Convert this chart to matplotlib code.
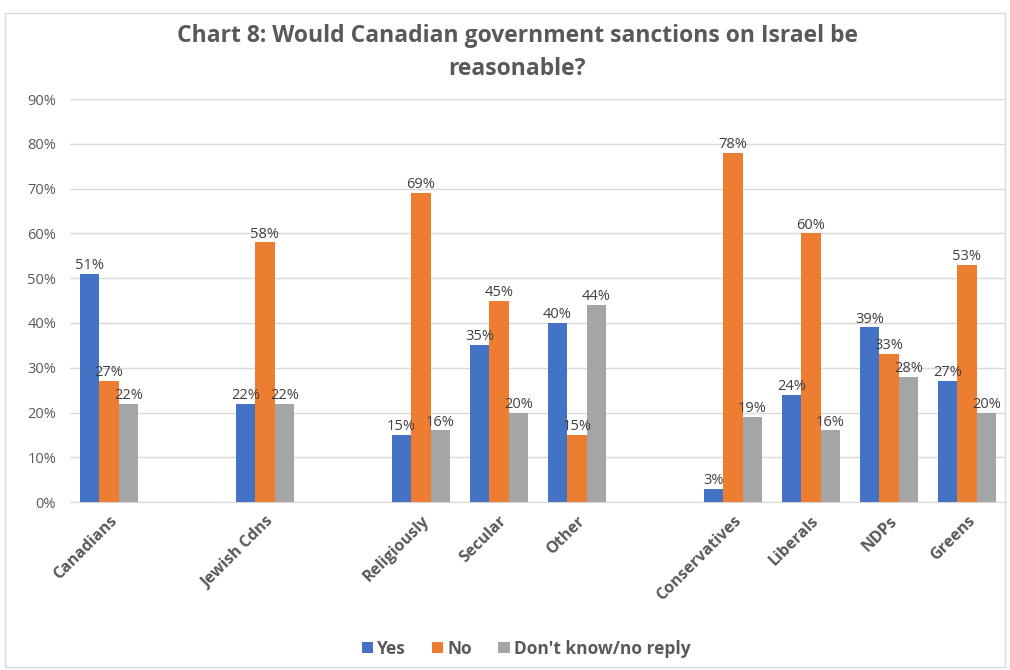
import matplotlib.pyplot as plt
import numpy as np
from matplotlib.patches import Rectangle

# blank categories reproduce the gaps between groups in the original sheet
categories = ["Canadians", "", "Jewish Cdns", "", "Religiously", "Secular", "Other", "",
              "Conservatives", "Liberals", "NDPs", "Greens"]
yes = [51, np.nan, 22, np.nan, 15, 35, 40, np.nan, 3, 24, 39, 27]
no = [27, np.nan, 58, np.nan, 69, 45, 15, np.nan, 78, 60, 33, 53]
dont_know = [22, np.nan, 22, np.nan, 16, 20, 44, np.nan, 19, 16, 28, 20]
series_names = ["Yes", "No", "Don't know/no reply"]
colors = ["#4472C4", "#ED7D31", "#A5A5A5"]

plt.rcParams["font.family"] = ["Open Sans", "DejaVu Sans"]

fig = plt.figure(figsize=(10.10, 6.70), dpi=100)
fig.patches.append(Rectangle((0.005, 0.005), 0.99, 0.975, transform=fig.transFigure,
                             fill=False, edgecolor="#D9D9D9", linewidth=1))
ax = fig.add_axes([0.0693, 0.2507, 0.9267, 0.6013])

x = np.arange(len(categories))
width = 0.25
for i, (vals, name, col) in enumerate(zip([yes, no, dont_know], series_names, colors)):
    vals = np.array(vals, dtype=float) / 100
    pos = x + (i - 1) * width
    ax.bar(pos, vals, width, color=col, label=name, zorder=3)
    for px, v in zip(pos, vals):
        if not np.isnan(v):
            ax.text(px, v + 0.002, f"{v * 100:.0f}%", ha="center", va="bottom",
                    fontsize=10.5, color="#404040", zorder=4)

ax.set_xlim(-0.5, len(categories) - 0.5)
ax.set_ylim(0, 0.9)
ax.set_yticks(np.arange(0, 0.91, 0.1))
ax.set_yticklabels([f"{t}%" for t in range(0, 91, 10)], fontsize=10.5, color="#595959")
ax.yaxis.grid(True, color="#D9D9D9", linewidth=1, zorder=0)
ax.tick_params(axis="both", length=0)
ax.tick_params(axis="y", pad=10)
ax.set_xticks(x)
ax.set_xticklabels(categories, rotation=45, ha="right", rotation_mode="anchor",
                   fontsize=11.5, fontweight="bold", color="#595959")
ax.tick_params(axis="x", pad=8)
for s in ["top", "right", "left"]:
    ax.spines[s].set_visible(False)
ax.spines["bottom"].set_color("#D9D9D9")

fig.text(0.512, 0.947, "Chart 8: Would Canadian government sanctions on Israel be",
         ha="center", va="center", fontsize=16.5, fontweight="bold", color="#595959")
fig.text(0.512, 0.897, "reasonable?", ha="center", va="center",
         fontsize=16.5, fontweight="bold", color="#595959")

leg = fig.legend(loc="center", bbox_to_anchor=(0.521, 0.032), ncol=3, frameon=False,
                 labelcolor="#595959", handlelength=0.65, handleheight=0.65,
                 handletextpad=0.25, columnspacing=1.5, prop={"weight": "bold", "size": 12.5})

fig.savefig("out.png", dpi=100)
